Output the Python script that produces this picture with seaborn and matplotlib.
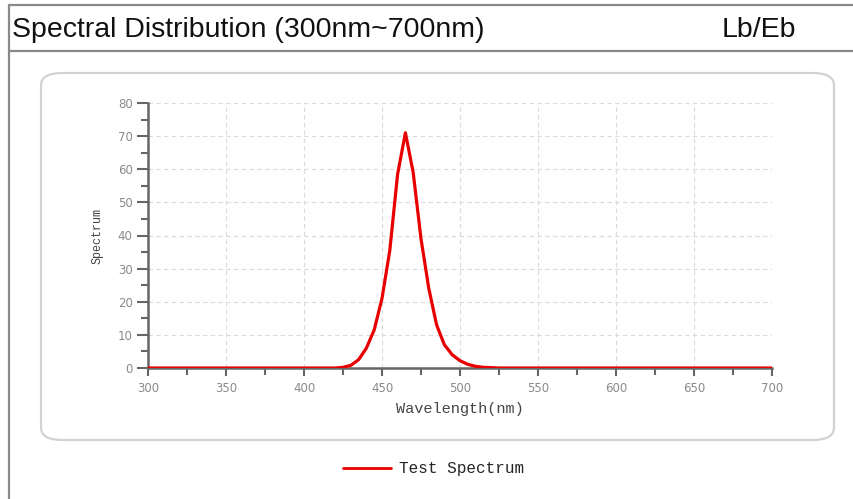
import matplotlib
matplotlib.use("Agg")
import matplotlib.pyplot as plt
from matplotlib.patches import FancyBboxPatch
from matplotlib.lines import Line2D
from matplotlib.ticker import MultipleLocator
import pandas as pd
import seaborn as sns

# Measured relative spectral power, sampled every 5 nm
wavelength = list(range(300, 705, 5))
spectrum = (
    [0.0] * 24 +                       # 300 .. 415 nm
    [0.0, 0.2, 0.8, 2.5, 6.0, 11.5,    # 420 .. 445 nm
     21.0, 35.5, 58.5, 71.0, 59.0,     # 450 .. 470 nm
     39.0, 24.0, 13.0, 7.0, 4.0,       # 475 .. 495 nm
     2.2, 1.1, 0.5, 0.2, 0.1] +        # 500 .. 520 nm
    [0.0] * 36                         # 525 .. 700 nm
)
series_name = "Test Spectrum"
title_text = "Spectral Distribution (300nm~700nm)"
unit_text = "Lb/Eb"
x_ticks = [300, 350, 400, 450, 500, 550, 600, 650, 700]
y_ticks = [0, 10, 20, 30, 40, 50, 60, 70, 80]

df = pd.DataFrame({"Wavelength": wavelength, "Spectrum": spectrum})

sns.set_theme(style="white")
plt.rcParams["font.family"] = ["Liberation Sans", "DejaVu Sans"]

W, H = 854, 499
fig = plt.figure(figsize=(W / 100, H / 100), dpi=100)
fig.patch.set_facecolor("white")

def fx(px):
    return px / W

def fy(py):
    return 1 - py / H

# Report frame: top rule, header rule and left rule
frame_col = "#8a8a8a"
fig.add_artist(Line2D([fx(9), 1], [fy(5), fy(5)], color=frame_col, lw=1.6))
fig.add_artist(Line2D([fx(9), 1], [fy(51), fy(51)], color=frame_col, lw=1.6))
fig.add_artist(Line2D([fx(9), fx(9)], [fy(5), 0], color=frame_col, lw=1.6))

fig.text(fx(12), fy(30), title_text, fontsize=20.5, color="#111111",
         ha="left", va="center")
fig.text(fx(722), fy(30), unit_text, fontsize=20.5, color="#111111",
         ha="left", va="center")

# Rounded panel around the chart
panel = FancyBboxPatch((fx(41), fy(440)), fx(834 - 41), (440 - 73) / H,
                       boxstyle="round,pad=0,rounding_size=0.025",
                       transform=fig.transFigure, facecolor="white",
                       edgecolor="#d2d2d2", lw=1.6, zorder=0)
fig.add_artist(panel)

ax = fig.add_axes([fx(148), fy(368), fx(772 - 148), (368 - 103) / H])
ax.set_facecolor("none")

red = "#e80000"
sns.lineplot(data=df, x="Wavelength", y="Spectrum", ax=ax, color=red,
             lw=2.3, label=series_name, legend=False, zorder=3)

ax.set_xlim(300, 700)
ax.set_ylim(0, 80)
ax.set_xticks(x_ticks)
ax.set_yticks(y_ticks)
ax.xaxis.set_minor_locator(MultipleLocator(25))
ax.yaxis.set_minor_locator(MultipleLocator(5))

ax.grid(True, which="major", color="#dadada", ls=(0, (4, 3)), lw=0.8)
for s in ["top", "right"]:
    ax.spines[s].set_visible(False)
for s in ["left", "bottom"]:
    ax.spines[s].set_color("#666666")
    ax.spines[s].set_linewidth(1.8)

ax.tick_params(axis="y", which="major", direction="out", length=8, width=1.5,
               color="#666666", labelcolor="#8a8a8a", labelsize=8.5, pad=3,
               left=True)
ax.tick_params(axis="y", which="minor", direction="out", length=5, width=1.5,
               color="#666666", left=True)
ax.tick_params(axis="x", which="major", direction="out", length=6, width=1.5,
               color="#666666", labelcolor="#8a8a8a", labelsize=8.5, pad=4,
               bottom=True)
ax.tick_params(axis="x", which="minor", direction="out", length=5, width=1.5,
               color="#666666", bottom=True)
for lab in ax.get_xticklabels() + ax.get_yticklabels():
    lab.set_family(["DejaVu Sans"])

mono = ["Liberation Mono", "DejaVu Sans Mono"]
ax.set_xlabel("Wavelength(nm)", fontsize=11, color="#444444", family=mono,
              labelpad=5)
ax.set_ylabel("Spectrum", fontsize=8.5, color="#444444", family=mono,
              labelpad=10)

# Legend below the panel
handle = Line2D([], [], color=red, lw=2.0)
fig.legend([handle], [series_name], loc="center",
           bbox_to_anchor=(fx(434), fy(469)), frameon=False,
           prop={"family": mono, "size": 11.5}, handlelength=3.0,
           handletextpad=0.5)

fig.savefig("out.png", dpi=100, facecolor="white")
